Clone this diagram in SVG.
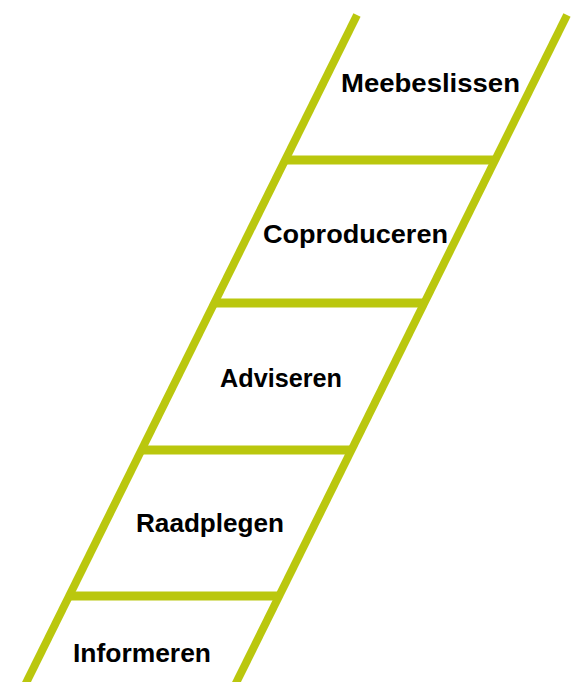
<svg xmlns="http://www.w3.org/2000/svg" width="576" height="682" viewBox="0 0 576 682">
<style>
.rail{stroke:#BAC70E;stroke-width:8;stroke-linecap:butt;fill:none}
.rung{stroke:#BAC70E;stroke-width:9;stroke-linecap:butt;fill:none}
.lbl{font-family:"Liberation Sans",Arial,sans-serif;font-weight:bold;font-size:25px;fill:#000}
</style>
<rect width="576" height="682" fill="#fff"/>
<g id="connectors">
<line class="rail" x1="357" y1="15" x2="17.6" y2="700"/>
<line class="rail" x1="567" y1="15" x2="227.6" y2="700"/>
<line class="rung" x1="285" y1="160" x2="495" y2="160"/>
<line class="rung" x1="214" y1="303" x2="424" y2="303"/>
<line class="rung" x1="141" y1="450" x2="351" y2="450"/>
<line class="rung" x1="69" y1="596" x2="279" y2="596"/>
</g>
<g id="meebeslissen"><text class="lbl" x="341" y="92" textLength="179" lengthAdjust="spacingAndGlyphs">Meebeslissen</text></g>
<g id="coproduceren"><text class="lbl" x="263" y="243" textLength="185" lengthAdjust="spacingAndGlyphs">Coproduceren</text></g>
<g id="adviseren"><text class="lbl" x="220" y="387" textLength="122" lengthAdjust="spacingAndGlyphs">Adviseren</text></g>
<g id="raadplegen"><text class="lbl" x="136" y="532" textLength="148" lengthAdjust="spacingAndGlyphs">Raadplegen</text></g>
<g id="informeren"><text class="lbl" x="73" y="662" textLength="138" lengthAdjust="spacingAndGlyphs">Informeren</text></g>
</svg>
